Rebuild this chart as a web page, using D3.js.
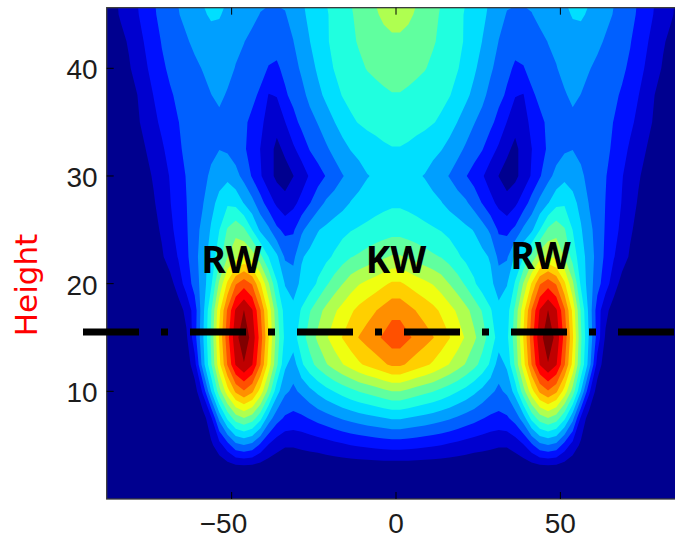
<!DOCTYPE html>
<html>
<head>
<meta charset="utf-8">
<title>Wave amplitude by height</title>
<script src="https://cdn.jsdelivr.net/npm/d3@7/dist/d3.min.js"></script>
<style>
  html, body { margin: 0; padding: 0; background: #ffffff; }
  svg { display: block; }
  .tick-label { font-family: "Liberation Sans", Arial, sans-serif; font-size: 28px; fill: #1c1c1c; }
  .wave-label { font-family: "Noto Sans", sans-serif; font-weight: 700; font-size: 37px; fill: #000000; }
  .axis-title { font-family: "DejaVu Sans", sans-serif; font-size: 31px; fill: #ff0000; }
</style>
</head>
<body>
<svg id="chart" width="675" height="538"></svg>
<script>
// Sample columns for x >= 0; the field is mirror-symmetric about x = 0.
const xHalf = [1.25, 3.75, 6.25, 8.75, 11.25, 13.75, 16.25, 18.75, 21.25, 23.75, 26.25, 28.75,
  31.25, 33.75, 36.25, 38.75, 41.25, 43.75, 46.25, 48.75, 51.25, 53.75, 56.25, 58.75, 61.25,
  63.75, 66.25, 68.75, 71.25, 73.75, 76.25, 78.75, 81.25, 83.75, 86.25, 88.75, 91.25];

// Sample rows (height)
const heights = [0, 2.5, 5, 7.5, 10, 12.5, 15, 17.5, 20, 22.5, 25, 27.5, 30, 32.5, 35, 37.5, 40, 42.5, 45, 47.5];

// Amplitude in contour-level units, one row per height, one value per column of xHalf
const amplitudeHalf = [
  [0,0,0,0,0,0,0,0,0,0,0,0,0,0,0,0,0,0,0,0,0,0,0,0,0,0,0,0,0,0,0,0,0,0,0,0,0],
  [0,0,0,0,0,0,0,0,0,0,0,0,0,0,0,0,0,0,0,0,0,0,0,0,0,0,0,0,0,0,0,0,0,0,0,0,0],
  [2.4,2.35,2.28,2.2,2.1,2.0,1.85,1.7,1.55,1.4,1.3,1.2,1.1,1.1,1.4,1.9,2.8,3.7,3.98,3.7,2.6,1.6,0.8,0.4,0.2,0.1,0.1,0.1,0.1,0.1,0.1,0.1,0.1,0.1,0.1,0.1,0.1],
  [5.1,4.95,4.8,4.65,4.5,4.3,4.1,3.85,3.6,3.35,3.05,2.8,2.7,2.85,3.4,4.5,6.3,7.5,7.98,7.5,6.2,4.3,1.8,0.5,0.3,0.2,0.1,0.1,0.1,0.1,0.1,0.1,0.1,0.1,0.1,0.1,0.1],
  [7.98,7.75,7.5,7.27,7.04,6.73,6.4,6.04,5.66,5.22,4.74,4.2,3.8,4.2,5.4,7.6,9.6,11.2,11.9,11.2,9.6,7.6,4.98,2.2,0.5,0.3,0.2,0.2,0.15,0.15,0.15,0.15,0.15,0.15,0.15,0.15,0.15],
  [11.2,10.85,10.5,10.2,9.86,9.42,8.96,8.46,7.92,7.31,6.64,5.83,4.5,5.2,7.2,9.6,12.02,14.05,14.95,14.1,12.1,9.7,6.9,4.5,1.6,0.4,0.3,0.2,0.15,0.15,0.15,0.15,0.15,0.15,0.15,0.15,0.15],
  [12.55,12.15,11.76,11.41,11.05,10.56,10.05,9.48,8.88,8.2,7.44,6.54,5.6,5.76,7.55,10.05,12.55,14.66,15.6,14.72,12.65,10.15,7.17,4.86,2.57,0.84,0.3,0.2,0.15,0.15,0.15,0.15,0.15,0.15,0.15,0.15,0.15],
  [11.7,11.32,10.96,10.63,10.3,9.84,9.37,8.84,8.28,7.64,6.93,6.1,5.3,5.54,7.26,9.67,12.07,14.1,15.02,14.16,12.17,9.76,6.9,4.68,2.47,1.3,0.5,0.3,0.2,0.2,0.2,0.2,0.2,0.2,0.2,0.2,0.2],
  [10.15,9.83,9.51,9.23,8.94,8.54,7.98,7.45,6.85,6.15,5.5,5.25,4.5,4.95,6.1,8.1,10.1,11.9,12.6,11.9,10.2,8.2,5.8,4.5,3.4,2.4,1.5,0.6,0.3,0.2,0.2,0.2,0.2,0.2,0.2,0.2,0.2],
  [8.1,7.85,7.6,7.38,7.15,6.95,6.6,6.15,5.75,5.5,5.25,4.9,3.75,3.85,5.2,5.98,7.3,8.6,9.1,8.7,7.98,6.6,5.4,4.6,3.6,2.8,2.05,1.5,0.85,0.45,0.3,0.2,0.2,0.2,0.2,0.2,0.2],
  [6.6,6.5,6.4,6.25,6.1,5.95,5.7,5.45,5.2,4.95,4.45,3.8,2.85,2.75,3.2,4.2,4.8,5.98,7.2,7.7,7.1,5.98,5.1,4.25,3.65,2.9,2.35,1.75,1.15,0.65,0.4,0.25,0.25,0.25,0.25,0.25,0.25],
  [5.85,5.75,5.6,5.45,5.3,5.05,4.7,4.45,4.15,3.6,2.95,2.3,1.75,1.3,1.8,2.5,3.4,4.3,4.95,5.7,5.85,5.3,4.7,3.95,3.5,2.98,2.5,1.95,1.4,0.9,0.55,0.35,0.25,0.25,0.25,0.25,0.25],
  [5.4,5.3,5.12,4.95,4.6,4.3,3.95,3.5,3.05,2.6,2.1,1.5,0.98,0.6,0.75,1.4,2.1,2.9,3.7,4.3,4.75,4.6,4.15,3.75,3.4,3.05,2.6,2.05,1.6,1.1,0.7,0.45,0.3,0.3,0.3,0.3,0.3],
  [5.95,5.85,5.7,5.55,5.3,5.05,4.7,4.3,3.85,3.45,3.05,2.4,1.85,1.2,0.75,1.4,1.98,2.55,3.15,3.55,3.85,3.98,3.8,3.6,3.4,3.2,2.85,2.35,1.85,1.45,0.98,0.65,0.45,0.3,0.3,0.3,0.3],
  [6.5,6.4,6.3,6.2,6.05,5.85,5.4,4.98,4.55,4.05,3.65,3.25,2.65,1.98,1.35,1.6,2.25,2.8,3.15,3.4,3.6,3.75,3.7,3.55,3.4,3.2,2.98,2.65,2.2,1.75,1.3,0.85,0.55,0.4,0.3,0.3,0.3],
  [6.95,6.85,6.7,6.55,6.4,6.25,6.05,5.65,5.2,4.75,4.25,3.7,3.3,2.85,2.05,1.95,2.85,3.2,3.45,3.65,3.9,4.2,3.98,3.7,3.55,3.35,3.15,2.9,2.5,2.02,1.5,0.98,0.7,0.5,0.35,0.3,0.3],
  [7.4,7.3,7.2,7.05,6.8,6.55,6.3,6.05,5.65,5.15,4.65,4.15,3.65,3.25,2.85,2.95,3.3,3.55,3.8,3.95,4.3,4.5,4.35,4.05,3.8,3.6,3.4,3.15,2.85,2.35,1.85,1.35,0.9,0.6,0.45,0.35,0.3],
  [7.85,7.75,7.6,7.4,7.1,6.8,6.5,6.2,5.9,5.5,4.98,4.55,3.98,3.6,3.35,3.4,3.6,3.8,4.02,4.25,4.5,4.75,4.7,4.45,4.2,3.9,3.65,3.35,3.05,2.6,2.1,1.6,1.1,0.75,0.5,0.4,0.3],
  [8.3,8.15,7.9,7.6,7.25,6.9,6.55,6.25,5.9,5.55,5.2,4.8,4.3,3.95,3.9,3.9,3.97,4.2,4.45,4.65,4.85,5.05,5.1,4.9,4.6,4.25,3.95,3.65,3.3,2.85,2.4,1.9,1.45,1.1,0.7,0.5,0.35],
  [8.6,8.45,8.15,7.8,7.45,7.1,6.75,6.45,6.1,5.75,5.4,4.98,4.6,4.3,4.2,4.2,4.3,4.45,4.65,4.85,5.1,5.35,5.4,5.15,4.8,4.45,4.1,3.8,3.45,2.98,2.55,2.05,1.6,1.2,0.8,0.55,0.4]
];

// Contour levels (filled bands between consecutive levels)
const levels = [1, 2, 3, 4, 5, 6, 7, 8, 9, 10, 11, 12, 13, 14, 15];

const xTicks = [-50, 0, 50];
const yTicks = [10, 20, 30, 40];
const waveNames = ["RW", "KW", "RW"];
const referenceHeight = 15.5;
const axisTitle = "Height";

// ---------- scales ----------
const svg = d3.select("#chart");
const x = d3.scaleLinear().domain([-88, 88]).range([106.7, 685.3]);
const y = d3.scaleLinear().domain([0, 40]).range([499, 68.3]);
const plot = { left: x(-88), right: x(88), top: y(45.63), bottom: y(0) };

// 64-entry jet colour map; each band takes the entry for its level
function jetMap(count) {
  const q = Math.ceil(count / 4);
  const u = [];
  for (let i = 1; i <= q; i++) u.push(i / q);
  for (let i = 1; i < q; i++) u.push(1);
  for (let i = q; i >= 1; i--) u.push(i / q);
  const start = Math.ceil(q / 2) - (count % 4 === 1 ? 1 : 0);
  const rows = Array.from({ length: count }, () => [0, 0, 0]);
  u.forEach((val, j) => {
    const g = start + j + 1, r = g + q, b = g - q;
    if (g >= 1 && g <= count) rows[g - 1][1] = val;
    if (r >= 1 && r <= count) rows[r - 1][0] = val;
    if (b >= 1 && b <= count) rows[b - 1][2] = val;
  });
  return rows.map(c => d3.rgb(c[0] * 255, c[1] * 255, c[2] * 255).toString());
}
const palette = jetMap(64);
const bandColor = k => palette[Math.round(k / levels.length * (palette.length - 1))];

// ---------- full grid (mirror the stored half) ----------
const xFull = xHalf.map(v => -v).reverse().concat(xHalf);
const values = [];
amplitudeHalf.forEach(row => { values.push(...row.slice().reverse(), ...row); });
const n = xFull.length, m = heights.length;

// grid coordinates -> data -> screen
const gx = d3.scaleLinear().domain([0.5, n - 0.5]).range([xFull[0], xFull[n - 1]]);
const gy = d3.scaleLinear().domain([0.5, m - 0.5]).range([heights[0], heights[m - 1]]);
const toScreen = d3.geoTransform({
  point(px, py) { this.stream.point(x(gx(px)), y(gy(py))); }
});
const path = d3.geoPath(toScreen);
const bands = d3.contours().size([n, m]).thresholds(levels)(values);

// ---------- filled contours ----------
svg.append("defs").append("clipPath").attr("id", "plot-clip")
  .append("rect")
  .attr("x", plot.left).attr("y", plot.top)
  .attr("width", plot.right - plot.left).attr("height", plot.bottom - plot.top);

const field = svg.append("g").attr("clip-path", "url(#plot-clip)");
field.append("rect")
  .attr("x", plot.left).attr("y", plot.top)
  .attr("width", plot.right - plot.left).attr("height", plot.bottom - plot.top)
  .attr("fill", bandColor(0));
field.selectAll("path.band")
  .data(bands)
  .join("path")
  .attr("class", "band")
  .attr("d", path)
  .attr("fill", d => bandColor(d.value));

// ---------- frame and inward ticks ----------
svg.append("rect")
  .attr("x", plot.left).attr("y", plot.top)
  .attr("width", plot.right - plot.left).attr("height", plot.bottom - plot.top)
  .attr("fill", "none").attr("stroke", "#3a3a3a").attr("stroke-width", 1.3);

const tickLen = 7;
const ticks = svg.append("g").attr("stroke", "#000").attr("stroke-width", 1);
xTicks.forEach(v => {
  ticks.append("line").attr("x1", x(v)).attr("x2", x(v)).attr("y1", plot.bottom).attr("y2", plot.bottom - tickLen);
  ticks.append("line").attr("x1", x(v)).attr("x2", x(v)).attr("y1", plot.top).attr("y2", plot.top + tickLen);
});
yTicks.forEach(v => {
  ticks.append("line").attr("x1", plot.left).attr("x2", plot.left + tickLen).attr("y1", y(v)).attr("y2", y(v));
  ticks.append("line").attr("x1", plot.right).attr("x2", plot.right - tickLen).attr("y1", y(v)).attr("y2", y(v));
});

// tick labels; a leading minus sits to the left of the centred digits
xTicks.forEach(v => {
  const t = svg.append("text").attr("class", "tick-label")
    .attr("x", x(v)).attr("y", 533).attr("text-anchor", "middle")
    .text(String(Math.abs(v)));
  if (v < 0) {
    const w = t.node().getComputedTextLength();
    t.attr("text-anchor", "end").attr("x", x(v) + w / 2).text("\u2212" + Math.abs(v));
  }
});
yTicks.forEach(v => {
  svg.append("text").attr("class", "tick-label")
    .attr("x", plot.left - 9).attr("y", y(v) + 11)
    .attr("text-anchor", "end").text(v);
});

// axis title
svg.append("text").attr("class", "axis-title")
  .attr("transform", "translate(37,285) rotate(-90)")
  .attr("text-anchor", "middle")
  .text(axisTitle);

// dash-dot reference level
svg.append("line")
  .attr("x1", 83).attr("x2", 700)
  .attr("y1", y(referenceHeight)).attr("y2", y(referenceHeight))
  .attr("stroke", "#000").attr("stroke-width", 7)
  .attr("stroke-dasharray", "56 22 7 22");

// wave annotations
const wavePlacement = [[-50, 20.96], [0, 20.96], [44, 21.4]];
waveNames.forEach((name, i) => {
  svg.append("text").attr("class", "wave-label")
    .attr("x", x(wavePlacement[i][0])).attr("y", y(wavePlacement[i][1]))
    .attr("text-anchor", "middle").text(name);
});
</script>
</body>
</html>
